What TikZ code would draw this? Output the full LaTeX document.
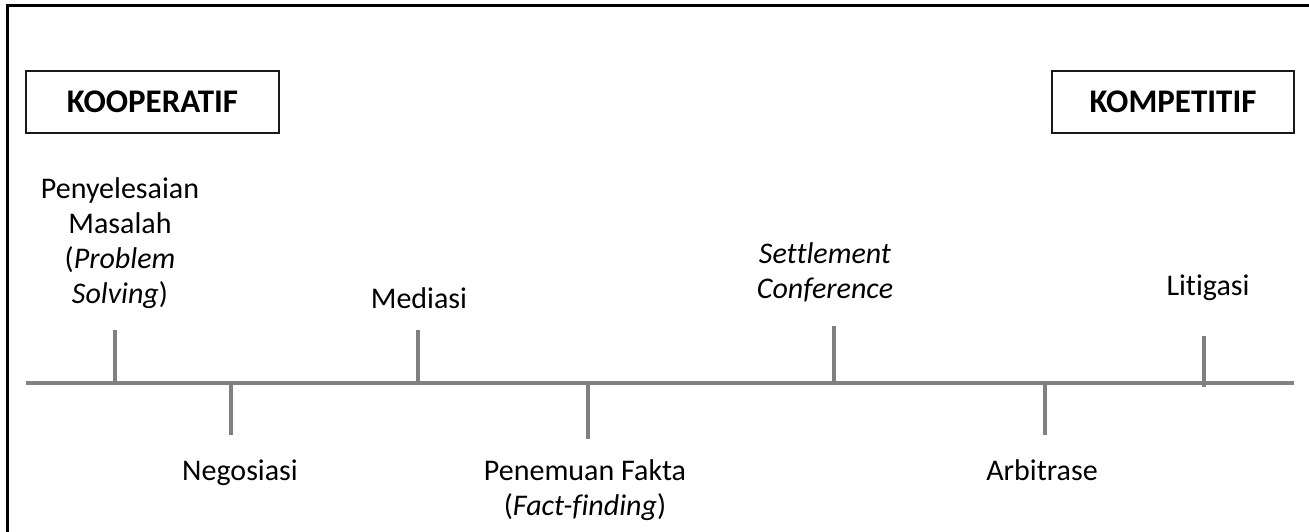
\documentclass[tikz,border=0pt]{standalone}
\usepackage{fontspec}
\setmainfont{Carlito}[Ligatures=CommonOff]
\usetikzlibrary{positioning}

\begin{document}
\begin{tikzpicture}[x=1pt,y=-1pt,
    kotak/.style={draw=black!90,line width=2pt,inner sep=0pt,minimum height=62pt,font=\fontsize{33}{38}\selectfont\bfseries},
    teks/.style={align=center,anchor=base,inner sep=0pt,font=\fontsize{30}{35}\selectfont},
    garis/.style={draw=black!50,line width=4pt}]
  \useasboundingbox (0,0) rectangle (1309,532);
  \draw[line width=3pt] (7,532) -- (7,6) -- (1309,6);

  \node[kotak,minimum width=253pt] (koop) at (152.5,102) {KOOPERATIF};
  \node[kotak,minimum width=242pt] (komp) at (1173,102) {KOMPETITIF};

  % sumbu
  \coordinate (ki) at (26,383);
  \coordinate (ka) at (1294,383);
  \draw[garis] (ki) -- (ka);

  \foreach \n/\x/\a/\b in {ps/115/330/383, neg/231/383/435, med/418/330/383, pf/588/383/439,
                           sc/834/326/383, arb/1045/383/435, lit/1204/336/387}{
    \coordinate (\n-a) at (\x,\a);
    \coordinate (\n-b) at (\x,\b);
    \draw[garis] (\n-a) -- (\n-b);
  }

  \node[teks] (ps)  at (120,303)  {Penyelesaian\\Masalah\\(\textit{Problem}\\\textit{Solving})};
  \node[teks] (med) at (419,308)  {Mediasi};
  \node[teks] (sc)  at (825,298)  {\textit{Settlement}\\\textit{Conference}};
  \node[teks] (lit) at (1208,295) {Litigasi};
  \node[teks] (neg) at (240,480)  {Negosiasi};
  \node[teks] (pf)  at (585,515)  {Penemuan Fakta\\(\textit{Fact-finding})};
  \node[teks] (arb) at (1042,480) {Arbitrase};
\end{tikzpicture}
\end{document}
